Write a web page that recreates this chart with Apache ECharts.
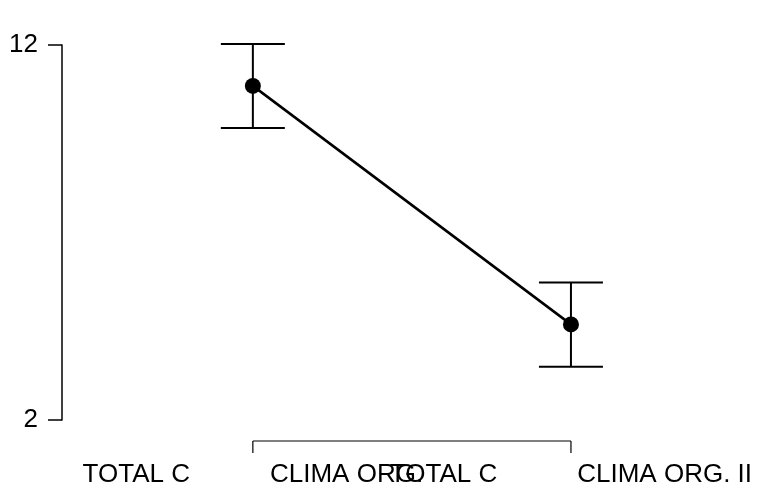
<!DOCTYPE html>
<html>
<head>
<meta charset="utf-8">
<script src="https://cdn.jsdelivr.net/npm/echarts@6/dist/echarts.min.js"></script>
<style>html,body{margin:0;padding:0;background:#fff;}#c{width:758px;height:494px;}</style>
</head>
<body>
<div id="c"></div>
<script>
var positions = [1, 2];
var leftLabels = ['TOTAL C', 'TOTAL C'];
var rightLabels = ['CLIMA ORG.', 'CLIMA ORG. II'];
var means = [10.91, 4.55];
var lower = [9.79, 3.42];
var upper = [12.03, 5.67];
var yTicks = [2, 12];

var chart = echarts.init(document.getElementById('c'));
var FONT = 'Liberation Sans, Arial, sans-serif';

var lineData = positions.map(function (p, i) { return [p, means[i]]; });
var errData = positions.map(function (p, i) { return [p, lower[i], upper[i]]; });
var labelData = positions.map(function (p, i) { return [p, i]; });

chart.setOption({
  animation: false,
  grid: { left: 62, right: 28, top: 45, bottom: 74 },
  xAxis: {
    type: 'value', min: 0.4, max: 2.5,
    axisLine: { show: false }, axisTick: { show: false }, splitLine: { show: false },
    axisLabel: { show: false }
  },
  yAxis: {
    type: 'value', min: yTicks[0], max: yTicks[1], interval: yTicks[1] - yTicks[0],
    axisLine: { show: true, lineStyle: { color: '#000', width: 1.5 } },
    axisTick: { show: true, length: 14, lineStyle: { color: '#000', width: 1.5 } },
    splitLine: { show: false },
    axisLabel: { margin: 24, color: '#000', fontFamily: FONT, fontSize: 26 }
  },
  series: [
    {
      type: 'custom',
      data: errData,
      z: 2,
      renderItem: function (params, api) {
        var x = api.value(0);
        var lo = api.coord([x, api.value(1)]);
        var hi = api.coord([x, api.value(2)]);
        var hw = 32;
        var st = { stroke: '#000', lineWidth: 2 };
        return {
          type: 'group',
          children: [
            { type: 'line', shape: { x1: lo[0], y1: lo[1], x2: hi[0], y2: hi[1] }, style: st },
            { type: 'line', shape: { x1: lo[0] - hw, y1: lo[1], x2: lo[0] + hw, y2: lo[1] }, style: st },
            { type: 'line', shape: { x1: hi[0] - hw, y1: hi[1], x2: hi[0] + hw, y2: hi[1] }, style: st }
          ]
        };
      }
    },
    {
      type: 'line',
      data: lineData,
      z: 3,
      symbol: 'circle',
      symbolSize: 16,
      itemStyle: { color: '#000' },
      lineStyle: { color: '#000', width: 2.5 }
    },
    {
      type: 'custom',
      data: [[positions[0], positions[positions.length - 1]]],
      clip: false,
      renderItem: function (params, api) {
        var a = api.coord([api.value(0), yTicks[0]]);
        var b = api.coord([api.value(1), yTicks[0]]);
        var y = a[1] + 21;
        var st = { stroke: '#000', lineWidth: 1.2 };
        return {
          type: 'group',
          children: [
            { type: 'line', shape: { x1: a[0], y1: y, x2: b[0], y2: y }, style: st },
            { type: 'line', shape: { x1: a[0], y1: y, x2: a[0], y2: y + 12 }, style: st },
            { type: 'line', shape: { x1: b[0], y1: y, x2: b[0], y2: y + 12 }, style: st }
          ]
        };
      }
    },
    {
      type: 'custom',
      data: labelData,
      clip: false,
      silent: true,
      renderItem: function (params, api) {
        var i = api.value(1);
        var p = api.coord([api.value(0), yTicks[0]]);
        return {
          type: 'text',
          style: {
            x: p[0],
            y: p[1] + 42,
            align: 'center',
            verticalAlign: 'top',
            text: '{a|' + leftLabels[i] + '}{g|}{b|' + rightLabels[i] + '}',
            rich: {
              a: { fontSize: 26, fontFamily: FONT, fill: '#000' },
              g: { width: 80 },
              b: { fontSize: 26, fontFamily: FONT, fill: '#000' }
            },
            fill: '#000',
            fontSize: 26,
            fontFamily: FONT
          }
        };
      }
    }
  ]
});
</script>
</body>
</html>
